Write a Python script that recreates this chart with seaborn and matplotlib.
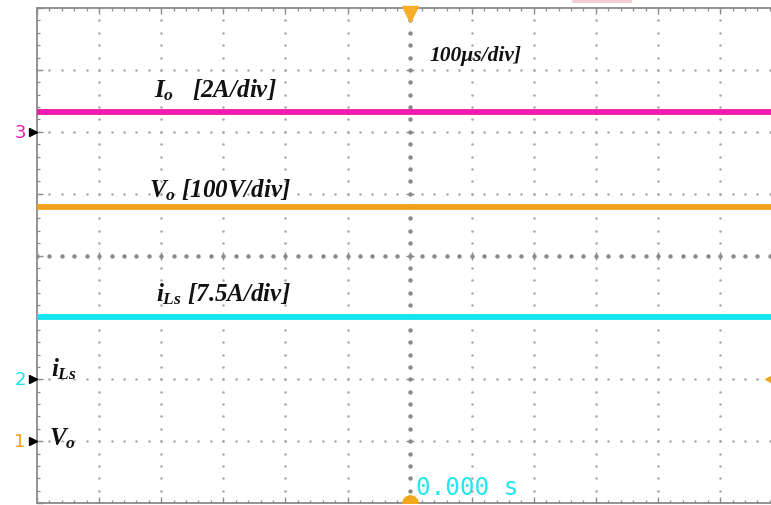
import numpy as np
import pandas as pd
import matplotlib
matplotlib.use('Agg')
import matplotlib.pyplot as plt
import seaborn as sns
from matplotlib.patches import Rectangle

# ---------------- data (oscilloscope divisions) ----------------
time_div = [-6.0, -4.0, -2.0, 0.0, 2.0, 4.0, 5.84]
io_div = [2.32, 2.32, 2.32, 2.32, 2.32, 2.32, 2.32]
vo_div = [0.78, 0.78, 0.78, 0.78, 0.78, 0.78, 0.78]
ils_div = [-1.0, -1.0, -1.0, -1.0, -1.0, -1.0, -1.0]
trace_names = ['Io', 'Vo', 'iLs']
trace_colors = ['#f01aac', '#f0a21e', '#14e4ee']
trace_labels = ['$I_o$   [2A/div]', '$V_o$ [100V/div]', '$i_{Ls}$ [7.5A/div]']
channel_ids = ['3', '2', '1']
channel_offsets = [2.0, -2.0, -3.0]
channel_colors = ['#f01aac', '#14e4ee', '#f0a21e']
timebase_label = '100\u03bcs/div]'
trigger_time = '0.000 s'

# ---------------- style ----------------
sns.set_style('white')
plt.rcParams['font.family'] = ['Liberation Serif', 'DejaVu Serif']
plt.rcParams['mathtext.fontset'] = 'custom'
plt.rcParams['mathtext.it'] = 'Liberation Serif:italic:bold'
plt.rcParams['mathtext.rm'] = 'Liberation Serif:italic:bold'
plt.rcParams['mathtext.bf'] = 'Liberation Serif:italic:bold'
plt.rcParams['mathtext.default'] = 'it'

W, H = 771, 506
fig = plt.figure(figsize=(W / 100, H / 100), dpi=100)
fig.patch.set_facecolor('white')

LEFT_PX, TOP_PX, BOT_PX = 37, 9, 504
DIVX = 62.1
ax = fig.add_axes([LEFT_PX / W, (H - BOT_PX) / H, (W - LEFT_PX) / W, (BOT_PX - TOP_PX) / H])
XMAX = -6 + (W - LEFT_PX) / DIVX
ax.set_xlim(-6, XMAX)
ax.set_ylim(-4, 4)


def fx(px):
    return px / W


def fy(py):
    return 1 - py / H


# ---------------- graticule ----------------
grid_col = '#a9a9a9'
ys = np.arange(-4, 4.001, 0.2)
xs = np.arange(-6, XMAX, 0.2)
for k in range(-5, 6):
    if k == 0:
        continue
    ax.scatter(np.full_like(ys, k), ys, s=3.4, color=grid_col, linewidths=0, zorder=1)
for j in range(-3, 4):
    if j == 0:
        continue
    ax.scatter(xs, np.full_like(xs, j), s=3.4, color=grid_col, linewidths=0, zorder=1)
# centre lines: heavier dots
ax.scatter(np.zeros_like(ys), ys, s=10, color='#888888', linewidths=0, zorder=1.5)
ax.scatter(xs, np.zeros_like(xs), s=10, color='#888888', linewidths=0, zorder=1.5)
maj_x = np.arange(-5, XMAX, 1.0)
maj_y = np.arange(-3, 4, 1.0)
ax.scatter(maj_x, np.zeros_like(maj_x), marker='|', s=30, color='#8c8c8c', linewidths=1, zorder=1.5)
ax.scatter(np.zeros_like(maj_y), maj_y, marker='_', s=30, color='#8c8c8c', linewidths=1, zorder=1.5)

for side in ['left', 'top', 'bottom']:
    ax.spines[side].set_color('#8a8a8a')
    ax.spines[side].set_linewidth(1.3)
ax.spines['right'].set_visible(False)
ax.set_xticks(np.arange(-6, XMAX, 1.0))
ax.set_xticks(np.arange(-6, XMAX, 0.2), minor=True)
ax.set_yticks(np.arange(-4, 4.01, 1.0))
ax.set_yticks(np.arange(-4, 4.01, 0.2), minor=True)
ax.tick_params(which='both', direction='in', top=True, bottom=True, left=True, right=False,
               labelbottom=False, labelleft=False, color='#8a8a8a')
ax.tick_params(which='major', length=4.5, width=1.0)
ax.tick_params(which='minor', length=2.5, width=0.9)

# ---------------- traces ----------------
df = pd.DataFrame({
    't': time_div * 3,
    'v': io_div + vo_div + ils_div,
    'trace': [trace_names[0]] * len(time_div) + [trace_names[1]] * len(time_div) + [trace_names[2]] * len(time_div),
})
sns.lineplot(data=df, x='t', y='v', hue='trace', palette=dict(zip(trace_names, trace_colors)),
             linewidth=4.2, legend=False, ax=ax, zorder=3)
ax.set_xlabel('')
ax.set_ylabel('')

# ---------------- markers ----------------
ax.plot([0], [3.9], marker='v', ms=12, color='#f5ad2a', clip_on=False, zorder=4)
ax.plot([0], [-4.0], marker='o', ms=11, color='#f2a81c', clip_on=True, zorder=4)
ax.plot([XMAX], [-2.0], marker='<', ms=8, color='#f2a81c', clip_on=False, zorder=4)
for cid, off, col in zip(channel_ids, channel_offsets, channel_colors):
    ax.plot([-6.07], [off], marker='>', ms=6, color='black', clip_on=False, zorder=5)
    ax.text(-6.18, off, cid, color=col, fontsize=13, family='DejaVu Sans', ha='right', va='center',
            clip_on=False)

# ---------------- labels ----------------
lab_font = dict(fontsize=18, fontweight='bold', fontstyle='italic', color='#111111')
fig.text(fx(154), fy(97), trace_labels[0], ha='left', va='baseline', **lab_font)
fig.text(fx(149), fy(197), trace_labels[1], ha='left', va='baseline', **lab_font)
fig.text(fx(156), fy(301), trace_labels[2], ha='left', va='baseline', **lab_font)
fig.text(fx(430), fy(61), timebase_label, ha='left', va='baseline', fontsize=15.5,
         fontweight='bold', fontstyle='italic', color='#111111')
fig.text(fx(51), fy(376), '$i_{Ls}$', ha='left', va='baseline', **lab_font)
fig.text(fx(49), fy(445), '$V_o$', ha='left', va='baseline', **lab_font)
fig.text(fx(416), fy(495), trigger_time, ha='left', va='baseline', fontsize=17.5,
         family='DejaVu Sans Mono', color='#22e6f0')

fig.patches.append(Rectangle((fx(572), fy(4)), (632 - 572) / W, 4 / H, transform=fig.transFigure,
                             facecolor='#f6cdd3', edgecolor='none', figure=fig))

fig.savefig('out.png', dpi=100, facecolor='white')
